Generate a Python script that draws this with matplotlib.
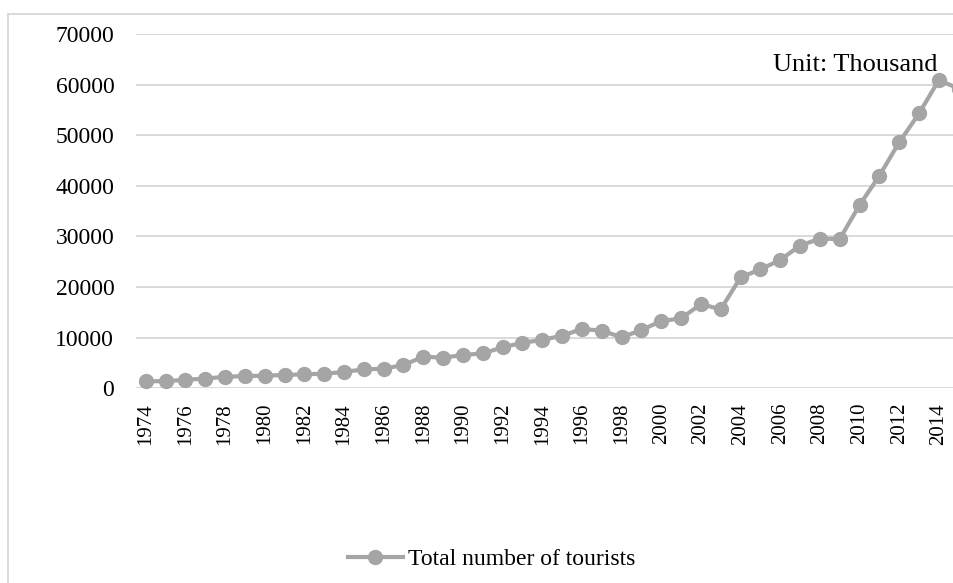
import matplotlib
matplotlib.use("Agg")
import matplotlib.pyplot as plt
from matplotlib.lines import Line2D

# Annual tourist totals (thousands)
years = list(range(1974, 2016))
tourists = [1400, 1400, 1700, 1900, 2300, 2400, 2500, 2630, 2770, 2880,
            3220, 3750, 3870, 4600, 6250, 6050, 6580, 6900, 8100, 9000,
            9550, 10400, 11700, 11400, 10080, 11500, 13300, 13800, 16650, 15600,
            21900, 23500, 25350, 28200, 29560, 29500, 36200, 42000, 48600, 54300,
            60900, 59200]
y_ticks = [0, 10000, 20000, 30000, 40000, 50000, 60000, 70000]
series_name = "Total number of tourists"
unit_note = "Unit: Thousand"

plt.rcParams["font.family"] = ["Liberation Serif", "DejaVu Serif"]

W, H = 954, 583
fig = plt.figure(figsize=(W / 100, H / 100), dpi=100)

# plot area in pixel terms (extends past the right edge of the canvas)
left_px, right_px = 135.8, 968.6
top_px, bottom_px = 34.0, 388.3
ax = fig.add_axes([left_px / W, 1 - bottom_px / H,
                   (right_px - left_px) / W, (bottom_px - top_px) / H])

line_color = "#a5a5a5"
grid_color = "#d9d9d9"

pos = list(range(len(years)))
ax.plot(pos, tourists, color=line_color, lw=3.0, marker="o", ms=10,
        mec=line_color, mfc=line_color, clip_on=False, zorder=3)

ax.set_xlim(-0.5, len(years) - 0.5)
ax.set_ylim(0, 70000)
ax.set_yticks(y_ticks)
ax.set_yticklabels([str(v) for v in y_ticks], fontsize=17)
ax.set_xticks(pos[::2])
ax.set_xticklabels([str(y) for y in years[::2]], rotation=90, fontsize=15,
                   va="top", ha="center")
ax.tick_params(axis="y", length=0, pad=15.5)
ax.tick_params(axis="x", length=0, pad=10.5)
ax.grid(axis="y", color=grid_color, lw=1.4)
ax.set_axisbelow(True)
for s in ax.spines.values():
    s.set_visible(False)

# chart frame (top and left edges visible)
fig.add_artist(Line2D([8.3 / W, 8.3 / W], [0, 1 - 14 / H],
                      transform=fig.transFigure, color=grid_color, lw=1.4))
fig.add_artist(Line2D([8.3 / W, 1], [1 - 14 / H, 1 - 14 / H],
                      transform=fig.transFigure, color=grid_color, lw=1.4))

fig.text(937.7 / W, 1 - 70.7 / H, unit_note, fontsize=19,
         ha="right", va="baseline")

handle = Line2D([], [], color=line_color, lw=3.0, marker="o", ms=10,
                mec=line_color, mfc=line_color)
fig.legend([handle], [series_name], loc="center",
           bbox_to_anchor=(491.4 / W, 1 - 559 / H), frameon=False,
           fontsize=17, handlelength=2.33, handletextpad=0.22,
           borderpad=0, borderaxespad=0)

fig.savefig("out.png", dpi=100)
